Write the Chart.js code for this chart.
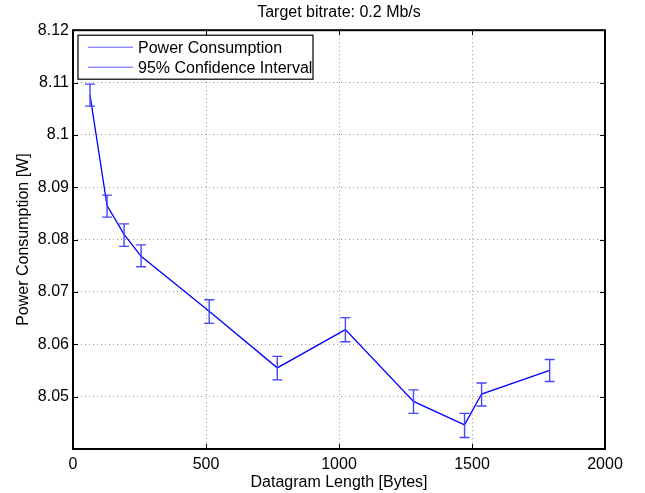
<!DOCTYPE html>
<html>
<head>
<meta charset="utf-8">
<script src="https://cdn.jsdelivr.net/npm/chart.js@4.4.0/dist/chart.umd.min.js"></script>
<style>
html, body { margin: 0; padding: 0; background: #fff; }
</style>
</head>
<body>
<canvas id="grafico" width="645" height="493"></canvas>
<script>
// dados
const tamanhos = [64, 128, 192, 256, 512, 768, 1024, 1280, 1472, 1536, 1792];
const potencia = [8.1076, 8.0865, 8.0810, 8.0768, 8.0663, 8.0555, 8.0628, 8.0491, 8.0446, 8.0505, 8.0550];
const icBaixo = [8.1055, 8.0843, 8.0787, 8.0748, 8.0640, 8.0532, 8.0605, 8.0468, 8.0422, 8.0482, 8.0529];
const icAlto = [8.1097, 8.0885, 8.0830, 8.0790, 8.0685, 8.0577, 8.0651, 8.0513, 8.0468, 8.0526, 8.0571];
const ticksX = [0, 500, 1000, 1500, 2000];
const ticksY = [8.04, 8.05, 8.06, 8.07, 8.08, 8.09, 8.1, 8.11, 8.12];
const legendas = ['Power Consumption', '95% Confidence Interval'];

const FONTE = "'Liberation Sans', Arial, sans-serif";

const barrasErro = {
    id: 'barrasErro',
    afterDatasetsDraw: function (chart) {
        const ctx = chart.ctx, x = chart.scales.x, y = chart.scales.y;
        ctx.save();
        ctx.strokeStyle = '#4646ff';
        ctx.lineWidth = 1.4;
        for (let i = 0; i < tamanhos.length; i++) {
            const px = x.getPixelForValue(tamanhos[i]);
            const lo = y.getPixelForValue(icBaixo[i]);
            const hi = y.getPixelForValue(icAlto[i]);
            ctx.beginPath();
            ctx.moveTo(px, lo); ctx.lineTo(px, hi);
            ctx.moveTo(px - 5, lo); ctx.lineTo(px + 5, lo);
            ctx.moveTo(px - 5, hi); ctx.lineTo(px + 5, hi);
            ctx.stroke();
        }
        ctx.restore();
    }
};

const moldura = {
    id: 'moldura',
    afterDraw: function (chart) {
        const ctx = chart.ctx, a = chart.chartArea;
        const x = chart.scales.x, y = chart.scales.y;
        ctx.save();
        ctx.strokeStyle = '#000';
        ctx.lineWidth = 1;
        // marcas para dentro
        ctx.beginPath();
        ticksX.forEach(function (v) {
            const px = Math.round(x.getPixelForValue(v)) + 0.5;
            ctx.moveTo(px, a.bottom); ctx.lineTo(px, a.bottom - 5);
            ctx.moveTo(px, a.top); ctx.lineTo(px, a.top + 5);
        });
        ticksY.forEach(function (v) {
            const py = Math.round(y.getPixelForValue(v)) + 0.5;
            ctx.moveTo(a.left, py); ctx.lineTo(a.left + 5, py);
            ctx.moveTo(a.right, py); ctx.lineTo(a.right - 5, py);
        });
        ctx.stroke();
        ctx.lineWidth = 2;
        ctx.strokeRect(a.left, a.top, a.right - a.left, a.bottom - a.top);

        // legenda
        const lx = a.left + 5, ly = a.top + 5;
        ctx.fillStyle = '#fff';
        ctx.fillRect(lx, ly, 235, 44);
        ctx.lineWidth = 1.2;
        ctx.strokeRect(lx, ly, 235, 44);
        ctx.font = '16px ' + FONTE;
        ctx.textBaseline = 'middle';
        legendas.forEach(function (txt, i) {
            const cy = ly + 12 + i * 20;
            ctx.strokeStyle = '#5a5aff';
            ctx.lineWidth = 1;
            ctx.beginPath();
            ctx.moveTo(lx + 10, cy); ctx.lineTo(lx + 55, cy);
            ctx.stroke();
            ctx.fillStyle = '#000';
            ctx.fillText(txt, lx + 60, cy + 1);
        });
        ctx.restore();
    }
};

const dados = {
    datasets: [{
        label: legendas[0],
        data: tamanhos.map(function (t, i) { return { x: t, y: potencia[i] }; }),
        borderColor: '#0000ff',
        backgroundColor: '#0000ff',
        borderWidth: 1.3,
        pointRadius: 0,
        tension: 0
    }]
};

const config = {
    type: 'line',
    data: dados,
    options: {
        responsive: false,
        animation: false,
        layout: { padding: { left: 0, right: 40, top: 0, bottom: 0 } },
        plugins: {
            legend: { display: false },
            tooltip: { enabled: false },
            title: {
                display: true,
                fullSize: false,
                text: 'Target bitrate: 0.2 Mb/s',
                color: '#000',
                font: { size: 16, family: FONTE, weight: 'normal' },
                padding: { top: 3, bottom: 8 }
            }
        },
        scales: {
            x: {
                type: 'linear',
                min: 0,
                max: 2000,
                afterBuildTicks: function (s) { s.ticks = ticksX.map(function (v) { return { value: v }; }); },
                afterFit: function (s) { s.height = 44; },
                ticks: {
                    color: '#000',
                    font: { size: 16, family: FONTE },
                    padding: 6,
                    maxRotation: 0,
                    callback: function (v) { return String(v); }
                },
                grid: {
                    color: '#9a9a9a',
                    drawTicks: false
                },
                border: { display: false, dash: [1, 3] },
                title: {
                    display: true,
                    text: 'Datagram Length [Bytes]',
                    color: '#000',
                    font: { size: 16, family: FONTE },
                    padding: { top: 1, bottom: 1 }
                }
            },
            y: {
                type: 'linear',
                min: 8.04,
                max: 8.12,
                afterBuildTicks: function (s) { s.ticks = ticksY.map(function (v) { return { value: v }; }); },
                afterFit: function (s) { s.width = 73; },
                ticks: {
                    color: '#000',
                    font: { size: 16, family: FONTE },
                    padding: 4,
                    callback: function (v) {
                        const r = Math.round(v * 100) / 100;
                        return r === 8.04 ? '' : String(r);
                    }
                },
                grid: {
                    color: '#9a9a9a',
                    drawTicks: false
                },
                border: { display: false, dash: [1, 3] },
                title: {
                    display: true,
                    text: 'Power Consumption [W]',
                    color: '#000',
                    font: { size: 16, family: FONTE },
                    padding: { top: 14, bottom: 14 }
                }
            }
        }
    },
    plugins: [barrasErro, moldura]
};

const grafico = new Chart(document.getElementById('grafico'), config);
</script>
</body>
</html>
